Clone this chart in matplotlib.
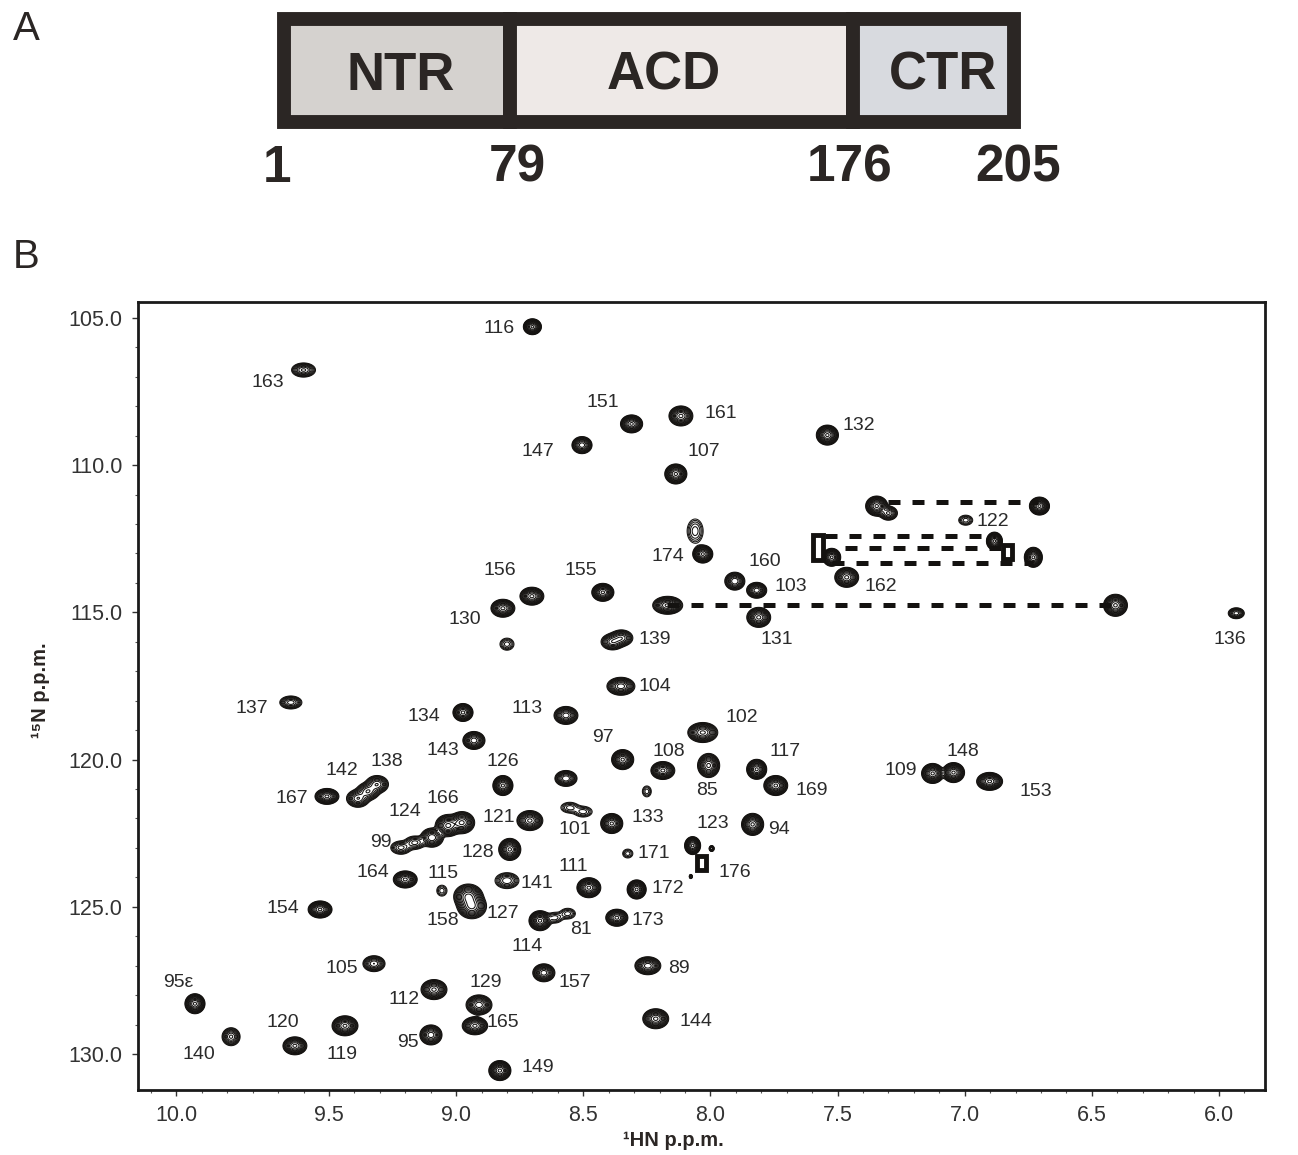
import matplotlib
matplotlib.use("Agg")
import matplotlib.pyplot as plt
import numpy as np
from matplotlib.patches import Rectangle

plt.rcParams['font.family'] = ['Liberation Sans', 'DejaVu Sans']

# panel A: domain map
domain_names = ["NTR", "ACD", "CTR"]
domain_start = [1, 79, 176]
domain_end = [79, 176, 205]
domain_colors = ["#d5d2cf", "#eee9e7", "#d8dadf"]
boundary_labels = ["1", "79", "176", "205"]

# panel B: peaks, HN ppm / N ppm / full width HN / full width N / height
# overlapped or tilted peaks are written as more than one entry
peak_hn = [8.70, 9.60, 8.31, 8.116, 8.505, 8.136, 7.54, 8.06, 8.03, 7.346, 7.30, 6.706, 6.996,
           7.523, 6.883, 6.73, 7.904, 7.818, 7.464, 8.168, 6.407, 7.81, 5.932, 8.816, 8.702,
           8.423, 8.80, 8.385, 8.350, 8.352, 9.65, 8.973, 8.568, 8.03, 8.93, 8.345, 8.187,
           8.007, 7.818, 7.743, 7.126, 7.044, 6.902, 8.816, 8.568, 8.25, 8.553, 8.50, 9.386,
           9.347, 9.311, 9.508, 9.032, 8.977, 9.095, 9.217, 9.162, 8.71, 8.388, 7.834, 8.789,
           8.07, 7.995, 8.325, 8.80, 9.20, 8.478, 8.29, 9.056, 8.077, 8.952, 8.938, 8.368,
           8.67, 8.612, 8.561, 9.323, 8.246, 8.655, 10.027, 9.087, 8.91, 8.926, 9.885, 9.634,
           9.437, 9.099, 8.215, 8.828, 9.535]
peak_n = [105.3, 106.77, 108.6, 108.33, 109.32, 110.3, 108.98, 112.24, 113.02, 111.39, 111.63, 111.39, 111.87,
          113.13, 112.58, 113.13, 113.94, 114.25, 113.81, 114.76, 114.76, 115.17, 115.03, 114.86, 114.45,
          114.32, 116.08, 116.0, 115.87, 117.51, 118.06, 118.4, 118.5, 119.08, 119.35, 120.0, 120.37,
          120.2, 120.33, 120.88, 120.47, 120.44, 120.74, 120.88, 120.64, 121.08, 121.63, 121.77, 121.32,
          121.08, 120.84, 121.25, 122.24, 122.14, 122.65, 122.99, 122.82, 122.07, 122.17, 122.2, 123.05,
          122.92, 123.02, 123.19, 124.11, 124.07, 124.35, 124.41, 124.45, 123.97, 124.65, 124.98, 125.37,
          125.47, 125.37, 125.23, 126.93, 127.0, 127.24, 128.29, 127.81, 128.33, 129.04, 129.41, 129.72,
          129.04, 129.35, 128.8, 130.56, 125.09]
peak_w_hn = [.071, .094, .087, .094, .079, .087, .087, .063, .079, .087, .071, .079, .055,
             .071, .063, .071, .079, .079, .094, .118, .094, .094, .063, .094, .094,
             .087, .055, .09, .09, .11, .087, .079, .094, .118, .087, .087, .094,
             .087, .079, .094, .087, .087, .102, .079, .087, .035, .07, .07, .09,
             .09, .09, .094, .10, .10, .09, .08, .08, .102, .087, .087, .087,
             .063, .02, .04, .094, .094, .094, .075, .04, .012, .115, .115, .087,
             .087, .06, .06, .087, .102, .087, .079, .102, .102, .10, .071, .094,
             .102, .087, .102, .087, .094]
peak_w_n = [.54, .48, .61, .68, .58, .68, .68, .82, .61, .68, .48, .61, .34,
            .61, .61, .68, .61, .54, .68, .61, .75, .68, .37, .61, .61,
            .61, .41, .55, .55, .61, .44, .61, .61, .68, .61, .68, .61,
            .82, .68, .68, .68, .68, .61, .68, .54, .37, .36, .36, .6,
            .6, .6, .54, .75, .75, .65, .45, .45, .68, .68, .75, .75,
            .61, .2, .3, .54, .58, .68, .65, .37, .14, .85, .85, .58,
            .68, .36, .36, .54, .61, .61, .68, .68, .68, .61, .61, .61,
            .68, .68, .68, .68, .58]
peak_height = [40, 12, 40, 30, 25, 40, 40, 4, 40, 40, 12, 40, 4,
               40, 40, 40, 20, 25, 30, 30, 40, 30, 10, 30, 30,
               40, 4, 14, 14, 25, 10, 30, 25, 30, 25, 40, 30,
               30, 40, 40, 40, 40, 40, 40, 20, 3, 4, 4, 15,
               15, 15, 30, 30, 30, 20, 7, 7, 30, 40, 40, 40,
               40, 8, 3, 8, 30, 40, 40, 3, 8, 30, 30, 30,
               40, 4, 4, 15, 25, 25, 40, 30, 25, 30, 12, 30,
               40, 25, 30, 40, 40]

# peaks that show up clipped to a square ring
box_hn = [7.578, 6.83, 8.034]
box_n = [112.79, 112.96, 123.5]
box_w_hn = [0.04, 0.035, 0.035]
box_w_n = [0.85, 0.48, 0.48]

# dashed connections between side chain pairs
dash_hn_start = [7.30, 7.55, 7.47, 7.52, 8.17]
dash_hn_end = [6.71, 6.88, 6.83, 6.73, 6.41]
dash_n = [111.26, 112.41, 112.82, 113.33, 114.74]

label_text = ["116", "163", "151", "161", "147", "107", "132", "122", "174", "160", "103", "162",
              "156", "155", "130", "139", "131", "136", "104", "137", "134", "113", "102", "97",
              "143", "108", "126", "117", "148", "109", "138", "142", "167", "85", "169", "153",
              "166", "124", "121", "133", "101", "94", "123", "99", "128", "171", "111", "164",
              "115", "176", "141", "172", "127", "154", "158", "173", "81", "114", "105", "89",
              "95ε", "129", "157", "112", "120", "165", "144", "95", "140", "119", "149"]
label_hn = [8.83, 9.74, 8.423, 7.959, 8.678, 8.025, 7.416, 6.89, 8.167, 7.786, 7.684, 7.33,
            8.828, 8.51, 8.965, 8.218, 7.738, 5.957, 8.218, 9.803, 9.126, 8.721, 7.876, 8.423,
            9.052, 8.163, 8.816, 7.707, 7.007, 7.251, 9.272, 9.449, 9.645, 8.014, 7.601, 6.72,
            9.052, 9.201, 8.832, 8.246, 8.533, 7.731, 7.99, 9.296, 8.914, 8.222, 8.541, 9.327,
            9.052, 7.904, 8.682, 8.167, 8.816, 9.681, 9.052, 8.246, 8.509, 8.721, 9.449, 8.124,
            10.094, 8.883, 8.533, 9.205, 9.681, 8.816, 8.057, 9.189, 10.011, 9.449, 8.678]
label_n = [105.37, 107.18, 107.86, 108.23, 109.52, 109.52, 108.67, 111.9, 113.09, 113.26, 114.11, 114.11,
           113.57, 113.57, 115.24, 115.92, 115.92, 115.92, 117.52, 118.26, 118.54, 118.26, 118.57, 119.25,
           119.69, 119.73, 120.07, 119.73, 119.73, 120.37, 120.07, 120.37, 121.32, 121.05, 121.05, 121.09,
           121.32, 121.77, 121.97, 121.97, 122.38, 122.38, 122.17, 122.82, 123.16, 123.2, 123.64, 123.84,
           123.88, 123.84, 124.22, 124.39, 125.24, 125.07, 125.47, 125.47, 125.78, 126.36, 127.11, 127.11,
           127.58, 127.58, 127.58, 128.13, 128.94, 128.94, 128.91, 129.59, 130.0, 130.0, 130.47]

x_ticks = [10.1, 9.5, 9.0, 8.5, 8.0, 7.5, 7.0, 6.5, 6.0]
x_tick_labels = ["10.0", "9.5", "9.0", "8.5", "8.0", "7.5", "7.0", "6.5", "6.0"]
y_ticks = [105, 110, 115, 120, 125, 130]


def frac_x(px):
    return px / 1298


def frac_y(px):
    return 1 - px / 1155


def axes_box(left, top, right, bottom):
    return [frac_x(left), frac_y(bottom), frac_x(right) - frac_x(left), frac_y(top) - frac_y(bottom)]


def spectrum(hn, n):
    # sum of peaks on the grid, each one only on its own little window
    field = np.zeros((len(n), len(hn)))
    for x0, y0, wx, wy, h in zip(peak_hn, peak_n, peak_w_hn, peak_w_n, peak_height):
        spread = np.sqrt(2 * np.log(h))
        sx = wx / 2 / spread
        sy = wy / 2 / spread
        ix = np.where(np.abs(hn - x0) < 6 * sx)[0]
        iy = np.where(np.abs(n - y0) < 6 * sy)[0]
        gx = np.exp(-(hn[ix] - x0) ** 2 / (2 * sx ** 2))
        gy = np.exp(-(n[iy] - y0) ** 2 / (2 * sy ** 2))
        field[iy[0]:iy[-1] + 1, ix[0]:ix[-1] + 1] += h * np.outer(gy, gx)
    return field


fig = plt.figure(figsize=(12.98, 11.55), dpi=100)
ink = "#2b2624"

# --- A ---
res_marks = np.array([1, 79, 176, 205], dtype=float)
res_pos = np.array([284, 509.5, 852.5, 1014], dtype=float)  # schematic, not to scale


def res_to_pos(v):
    return np.interp(v, res_marks, res_pos)


def pos_to_res(v):
    return np.interp(v, res_pos, res_marks)


axA = fig.add_axes(axes_box(284, 18.5, 1014, 122))
axA.set_xscale('function', functions=(res_to_pos, pos_to_res))
axA.set_xlim(1, 205)
axA.set_ylim(0, 1)
axA.axis('off')
for name, start, end, col in zip(domain_names, domain_start, domain_end, domain_colors):
    axA.barh(0.5, end - start, left=start, height=1, color=col, edgecolor=ink, linewidth=10,
             clip_on=False, joinstyle='miter')

domain_text_px = [401, 664, 943]
for name, px in zip(domain_names, domain_text_px):
    fig.text(frac_x(px), frac_y(76), name, ha='center', va='center', fontsize=38,
             fontweight='bold', color=ink)
number_px = [277, 517, 850, 1018]
for lab, px in zip(boundary_labels, number_px):
    fig.text(frac_x(px), frac_y(168), lab, ha='center', va='center', fontsize=37,
             fontweight='bold', color=ink)
fig.text(frac_x(26), frac_y(29), "A", ha='center', va='center', fontsize=29, color=ink)
fig.text(frac_x(26), frac_y(257), "B", ha='center', va='center', fontsize=29, color=ink)

# --- B ---
ax = fig.add_axes(axes_box(138, 302, 1265, 1090))
hn_grid = np.linspace(10.251, 5.819, 2254)
n_grid = np.linspace(104.46, 131.22, 1576)
Z = spectrum(hn_grid, n_grid)
levels = 1.35 ** np.arange(0, 14)
ax.contour(hn_grid, n_grid, Z, levels=levels, colors="#141210", linewidths=0.75)

for x, y, w, h in zip(box_hn, box_n, box_w_hn, box_w_n):
    ax.add_patch(Rectangle((x - w / 2, y - h / 2), w, h, fill=False, edgecolor="#141210", linewidth=3.5))

for x0, x1, y in zip(dash_hn_start, dash_hn_end, dash_n):
    ax.plot([x0, x1], [y, y], color="#141210", lw=3.6, linestyle=(0, (2.4, 2.4)), dash_capstyle='butt')

for t, x, y in zip(label_text, label_hn, label_n):
    ax.text(x, y, t, ha='center', va='center', fontsize=14, color="#2a2a2a")

ax.set_xlim(10.251, 5.819)
ax.set_ylim(131.22, 104.46)
ax.set_xticks(x_ticks)
ax.set_xticklabels(x_tick_labels)
ax.set_xticks(np.arange(5.9, 10.3, 0.1), minor=True)
ax.set_yticks(y_ticks)
ax.set_yticklabels([f"{v:.1f}" for v in y_ticks])
ax.set_yticks(np.arange(105, 131, 1), minor=True)
ax.tick_params(which='major', length=4, width=1, labelsize=15.5, colors="#333333", pad=7)
ax.tick_params(which='minor', length=2.5, width=0.8, colors="#555555")
for sp in ax.spines.values():
    sp.set_linewidth(2)
    sp.set_color("#1a1a1a")

fig.text(frac_x(673), frac_y(1141), "¹HN p.p.m.", ha='center', va='center', fontsize=14.5,
         fontweight='bold', color=ink)
fig.text(frac_x(40), frac_y(690), "¹⁵N p.p.m.", ha='center', va='center', rotation=90,
         fontsize=14.5, fontweight='bold', color=ink)

fig.savefig("out.png", dpi=100)
